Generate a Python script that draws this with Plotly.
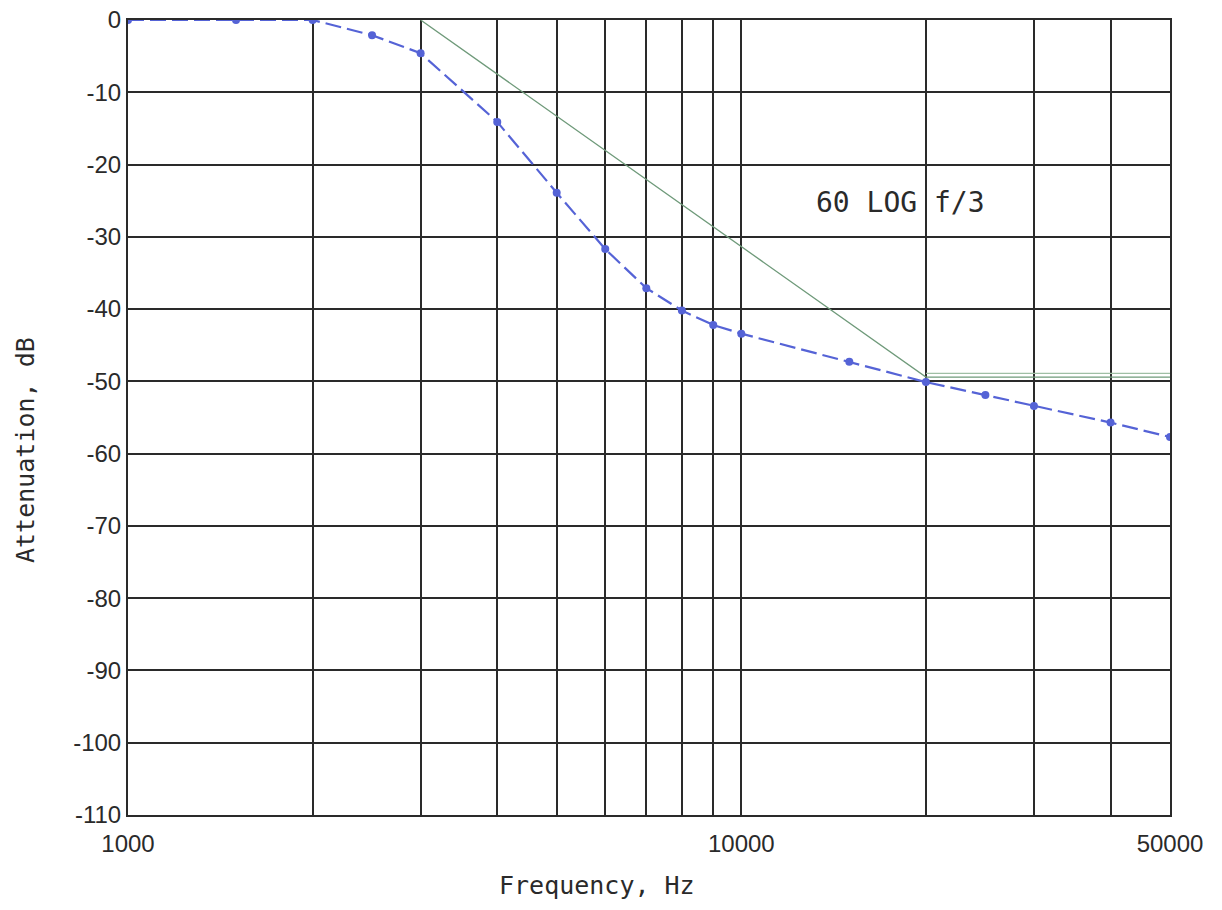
import plotly.graph_objects as go

# Measured response (blue)
freq_hz = [1000, 1500, 2000, 2500, 3000, 4000, 5000, 6000, 7000, 8000, 9000, 10000,
           15000, 20000, 25000, 30000, 40000, 50000]
atten_db = [0, 0, 0, -2.1, -4.6, -14.1, -23.9, -31.7, -37.1, -40.2, -42.2, -43.4,
            -47.3, -50.1, -51.9, -53.4, -55.7, -57.7]

# 60 LOG f/3 asymptote (green)
asym_f = [3000, 20000, 50000]
asym_db = [0, -49.4, -49.4]
asym2_f = [20000, 50000]
asym2_db = [-48.9, -48.9]

grid_f = [1000, 2000, 3000, 4000, 5000, 6000, 7000, 8000, 9000, 10000,
          20000, 30000, 40000, 50000]
grid_lbl = ["1000", "", "", "", "", "", "", "", "", "10000", "", "", "", "50000"]
y_ticks = [0, -10, -20, -30, -40, -50, -60, -70, -80, -90, -100, -110]
y_lbl = ["0", "-10", "-20", "-30", "-40", "-50", "-60", "-70", "-80", "-90", "-100", "-110"]

tick_font = "Liberation Sans"
title_font = "DejaVu Sans Mono"
ink = "#2a2a2a"

fig = go.Figure()
fig.add_trace(go.Scatter(x=asym_f, y=asym_db, mode="lines",
                         line=dict(color="#6f9a7a", width=1.3), showlegend=False))
fig.add_trace(go.Scatter(x=asym2_f, y=asym2_db, mode="lines",
                         line=dict(color="#9fbfa5", width=1.2), showlegend=False))
fig.add_trace(go.Scatter(x=freq_hz, y=atten_db, mode="lines+markers",
                         line=dict(color="#5563d6", width=2.2, dash="16px,6px"),
                         marker=dict(color="#5563d6", size=8),
                         showlegend=False))

fig.add_annotation(x=4.26, y=-25.3, xref="x", yref="y", text="60 LOG f/3",
                   showarrow=False, font=dict(family=title_font, size=28, color=ink))
fig.add_annotation(x=(25 - 128) / 1042, y=(815 - 450) / 795, xref="paper", yref="paper",
                   text="Attenuation, dB", textangle=-90, showarrow=False,
                   xanchor="center", yanchor="middle",
                   font=dict(family=title_font, size=25, color=ink))
fig.add_annotation(x=0.45, y=-(885 - 815) / 795, xref="paper", yref="paper",
                   text="Frequency, Hz", showarrow=False,
                   xanchor="center", yanchor="middle",
                   font=dict(family=title_font, size=25, color=ink))

fig.update_layout(
    width=1222, height=910,
    margin=dict(l=128, r=52, t=20, b=95),
    paper_bgcolor="white", plot_bgcolor="white",
    font=dict(family=tick_font, size=24, color=ink),
    xaxis=dict(type="log", range=[3, 4.69897], tickvals=grid_f, ticktext=grid_lbl,
               showgrid=True, gridcolor=ink, gridwidth=2, ticks="",
               showline=True, linecolor=ink, linewidth=2, mirror=True,
               zeroline=False, automargin=False, ticklabelstandoff=6,
               tickfont=dict(family=tick_font, size=24)),
    yaxis=dict(range=[-110, 0], tickvals=y_ticks, ticktext=y_lbl,
               showgrid=True, gridcolor=ink, gridwidth=2, ticks="",
               showline=True, linecolor=ink, linewidth=2, mirror=True,
               zeroline=False, automargin=False,
               tickfont=dict(family=tick_font, size=24)),
)

fig.write_html("out.html")
